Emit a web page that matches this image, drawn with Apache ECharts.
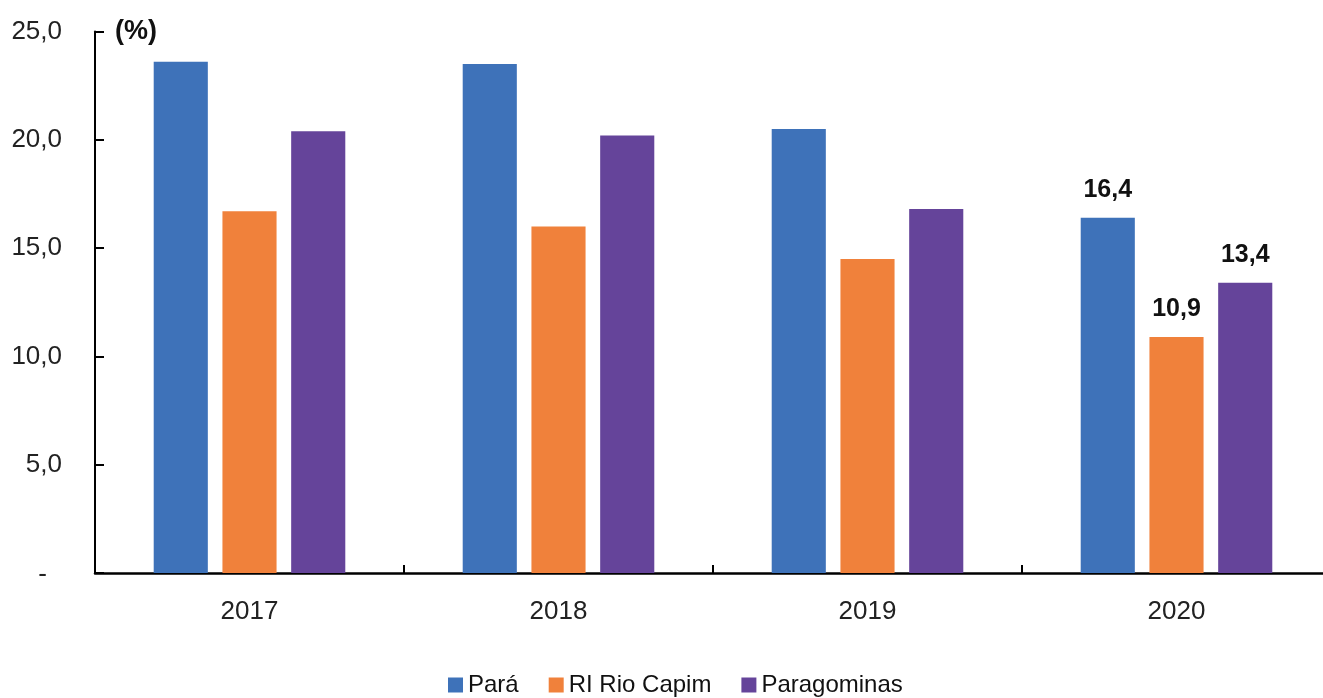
<!DOCTYPE html>
<html>
<head>
<meta charset="utf-8">
<script src="https://cdn.jsdelivr.net/npm/echarts@6/dist/echarts.min.js"></script>
<style>
html,body{margin:0;padding:0;background:#fff;overflow:hidden;}
#c{width:1331px;height:698px;}
</style>
</head>
<body>
<div id="c"></div>
<script>
const categories = ['2017', '2018', '2019', '2020'];
const seriesNames = ['Pará', 'RI Rio Capim', 'Paragominas'];
const para = [23.6, 23.5, 20.5, 16.4];
const riRioCapim = [16.7, 16.0, 14.5, 10.9];
const paragominas = [20.4, 20.2, 16.8, 13.4];
const yTicks = [0, 5, 10, 15, 20, 25];
const labeledIndex = 3;

const colors = ['#3E72B9', '#F0813B', '#65449A'];
const sans = '"Liberation Sans", Arial, sans-serif';
const fmt = v => v.toFixed(1).replace('.', ',');

function mk(name, values, color) {
  return {
    name: name,
    type: 'bar',
    barGap: '27%',
    barCategoryGap: '38%',
    itemStyle: { color: color },
    data: values.map((v, i) => ({
      value: v,
      label: {
        show: i === labeledIndex,
        position: 'top',
        distance: 15,
        formatter: p => fmt(p.value),
        fontFamily: sans,
        fontWeight: 'bold',
        fontSize: 25,
        color: '#111'
      }
    }))
  };
}

const chart = echarts.init(document.getElementById('c'), null, { renderer: 'canvas' });
chart.setOption({
  animation: false,
  backgroundColor: '#fff',
  grid: { left: 95, right: 0, top: 31.5, bottom: 125, containLabel: false },
  legend: {
    left: 448,
    top: 673,
    padding: 0,
    itemWidth: 15,
    itemHeight: 15,
    itemGap: 30,
    icon: 'rect',
    textStyle: { fontFamily: sans, fontSize: 24, color: '#111' },
    data: seriesNames
  },
  xAxis: {
    type: 'category',
    data: categories,
    axisLine: { lineStyle: { color: '#000', width: 2.5 } },
    axisTick: { show: true, inside: true, length: 8, lineStyle: { color: '#000', width: 2 } },
    axisLabel: { fontFamily: sans, fontSize: 26, color: '#222', margin: 26 }
  },
  yAxis: {
    type: 'value',
    min: 0,
    max: 25,
    interval: 5,
    name: '(%)',
    nameLocation: 'end',
    nameGap: 0,
    nameTextStyle: { fontFamily: sans, fontWeight: 'bold', fontSize: 27, color: '#111', align: 'left', verticalAlign: 'middle', padding: [0, 0, 0, 20] },
    axisLine: { show: true, lineStyle: { color: '#000', width: 2 } },
    axisTick: { show: true, inside: true, length: 9, lineStyle: { color: '#000', width: 2 } },
    splitLine: { show: false },
    axisLabel: {
      fontFamily: sans, fontSize: 26, color: '#222', margin: 33,
      formatter: v => (v === yTicks[0] ? '{d|-}' : fmt(v)),
      rich: { d: { fontFamily: sans, fontSize: 26, color: '#222', padding: [4, 15, 0, 0] } }
    }
  },
  series: [
    mk(seriesNames[0], para, colors[0]),
    mk(seriesNames[1], riRioCapim, colors[1]),
    mk(seriesNames[2], paragominas, colors[2])
  ]
});
</script>
</body>
</html>
